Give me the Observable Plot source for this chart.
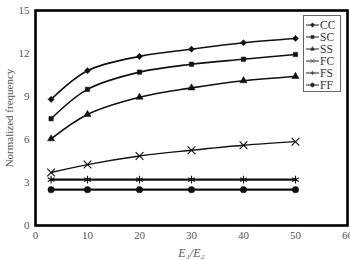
<!DOCTYPE html>
<html><head><meta charset="utf-8">
<script src="https://cdn.jsdelivr.net/npm/d3@7"></script>
<script src="https://cdn.jsdelivr.net/npm/@observablehq/plot@0.6"></script>
<style>
body{margin:0;background:#fff;}
#wrap{position:relative;width:350px;height:260px;font-family:"Liberation Serif",serif;}
#legend{position:absolute;left:303px;top:15px;width:38px;height:77px;border:1px solid #666;background:#fff;box-sizing:border-box;padding-top:3px;}
.row{display:flex;align-items:center;height:12px;font-size:11.5px;color:#333;}
.row svg{margin-left:2px;margin-right:1px;}
</style></head>
<body><div id="wrap"><div id="chart"></div><div id="legend"></div></div>
<script>
const ratios = [3, 10, 20, 30, 40, 50];
const seriesNames = ["CC", "SC", "SS", "FC", "FS", "FF"];
const CC = [8.8, 10.8, 11.8, 12.3, 12.75, 13.05];
const SC = [7.45, 9.5, 10.7, 11.25, 11.6, 11.93];
const SS = [6.05, 7.75, 8.95, 9.6, 10.1, 10.4];
const FC = [3.7, 4.25, 4.85, 5.25, 5.6, 5.85];
const FS = [3.2, 3.2, 3.2, 3.2, 3.2, 3.2];
const FF = [2.5, 2.5, 2.5, 2.5, 2.5, 2.5];
const xTicks = [0, 10, 20, 30, 40, 50, 60];
const yTicks = [0, 3, 6, 9, 12, 15];

const valuesBy = {CC, SC, SS, FC, FS, FF};
const style = {
  CC: {symbol: "diamond2", filled: true, r: 2.8, sw: 1.6},
  SC: {symbol: "square2", filled: true, r: 2.8, sw: 1.6},
  SS: {symbol: "triangle2", filled: true, r: 3.4, sw: 1.6},
  FC: {symbol: "times", filled: false, r: 3.6, sw: 1.4},
  FS: {symbol: "asterisk", filled: false, r: 3.6, sw: 2.4},
  FF: {symbol: "circle", filled: true, r: 3.2, sw: 2.4}
};
const data = seriesNames.flatMap(s => ratios.map((x, i) => ({series: s, x, y: valuesBy[s][i]})));

const marks = [];
for (const s of seriesNames) {
  const d = data.filter(r => r.series === s);
  const st = style[s];
  marks.push(Plot.line(d, {x: "x", y: "y", stroke: "#111", strokeWidth: st.sw, curve: "catmull-rom"}));
  marks.push(Plot.dot(d, {x: "x", y: "y", symbol: () => st.symbol, r: st.r,
    fill: st.filled ? "#111" : "none", stroke: "#111", strokeWidth: st.filled ? 0.5 : 1.1}));
}

const chart = Plot.plot({
  width: 350, height: 260,
  marginTop: 10, marginBottom: 35, marginLeft: 35, marginRight: 3,
  style: {fontFamily: "Liberation Serif, serif", fontSize: "11px", color: "#555", background: "#fff"},
  x: {domain: [0, 60], ticks: xTicks, tickSize: 0, tickPadding: 6,
      label: "E₁/E₂", labelAnchor: "center", labelOffset: 31, labelArrow: "none"},
  y: {domain: [0, 15], ticks: yTicks, tickSize: 0, tickPadding: 6,
      label: "Normalized frequency", labelAnchor: "center", labelOffset: 30, labelArrow: "none"},
  marks: [
    ...marks,
    Plot.frame({stroke: "#000", strokeWidth: 2.6})
  ]
});
chart.querySelectorAll("[aria-label='x-axis label']").forEach(e => {
  e.setAttribute("font-style", "italic");
  e.setAttribute("font-size", "12px");
});
document.getElementById("chart").appendChild(chart);

const legend = d3.select("#legend");
const symGen = {diamond2: d3.symbolDiamond2, square2: d3.symbolSquare2, triangle2: d3.symbolTriangle2,
  times: d3.symbolTimes, asterisk: d3.symbolAsterisk, circle: d3.symbolCircle};
for (const s of seriesNames) {
  const st = style[s];
  const row = legend.append("div").attr("class", "row");
  const svg = row.append("svg").attr("width", 13).attr("height", 10);
  svg.append("line").attr("x1", 0).attr("x2", 13).attr("y1", 5).attr("y2", 5).attr("stroke", "#222").attr("stroke-width", 1);
  svg.append("path").attr("transform", "translate(6.5,5)")
    .attr("d", d3.symbol(symGen[st.symbol], st.filled ? 12 : 14)())
    .attr("fill", st.filled ? "#222" : "none").attr("stroke", "#444").attr("stroke-width", 0.7);
  row.append("span").text(s);
}
</script></body></html>
